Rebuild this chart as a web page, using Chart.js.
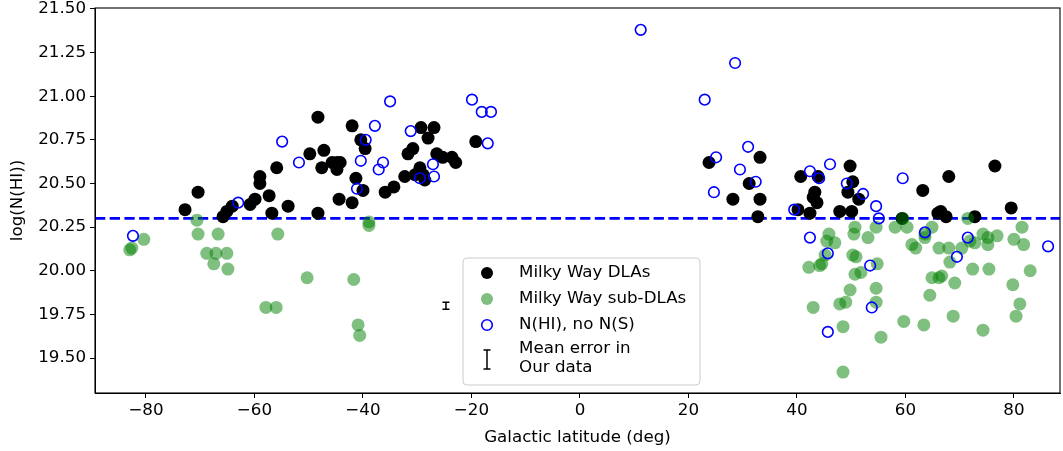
<!DOCTYPE html>
<html><head><meta charset="utf-8">
<script src="https://cdn.jsdelivr.net/npm/chart.js@4"></script>
<style>html,body{margin:0;padding:0;background:#fff}#wrap{width:1063px;height:451px}</style>
</head><body><div id="wrap"><canvas id="c" width="1063" height="451"></canvas></div>
<script>
// ---- data ----
const dlaLat = [-72.8,-70.4,-65.8,-65.1,-64.1,-60.8,-59.9,-59.0,-59.0,-57.3,-56.8,-55.9,-53.8,-49.8,-48.3,-48.3,-47.6,-47.2,-45.7,-44.8,-44.2,-44.8,-42.0,-40.4,-39.6,-41.3,-40.0,-44.4,-42.0,-35.9,-34.3,-32.3,-31.7,-30.8,-30.4,-29.5,-29.3,-28.9,-28.6,-28.0,-26.9,-26.4,-25.3,-23.6,-22.9,-19.2,
  23.8,33.2,31.2,28.2,33.2,32.8,40.7,43.9,43.3,43.0,43.7,40.2,42.4,49.8,50.3,49.4,51.4,47.9,50.1,63.2,68.0,76.5,66.5,67.5,66.0,72.8,79.5,59.4];
const dlaLogN = [20.35,20.45,20.31,20.34,20.37,20.38,20.41,20.50,20.54,20.43,20.33,20.59,20.37,20.67,20.88,20.33,20.59,20.69,20.62,20.62,20.62,20.58,20.83,20.75,20.70,20.53,20.46,20.41,20.39,20.45,20.48,20.54,20.67,20.70,20.55,20.59,20.82,20.55,20.52,20.76,20.82,20.67,20.65,20.65,20.62,20.74,
  20.62,20.65,20.50,20.41,20.41,20.31,20.54,20.54,20.45,20.42,20.39,20.35,20.33,20.60,20.51,20.45,20.41,20.34,20.34,20.46,20.54,20.60,20.34,20.31,20.33,20.31,20.36,20.30];
const subLat = [-83.0,-82.6,-80.4,-70.6,-70.4,-66.7,-68.8,-67.1,-65.1,-67.5,-64.9,-55.7,-50.3,-57.9,-56.0,-38.9,-38.9,-41.7,-40.9,-40.6,
  42.2,44.2,43.0,45.9,45.5,47.0,45.2,44.6,50.7,50.5,53.1,54.6,58.1,60.3,59.5,50.3,50.9,51.8,50.7,54.8,49.8,54.6,54.6,47.9,49.0,48.5,55.5,48.5,59.7,63.4,68.8,74.3,61.2,61.9,63.6,63.6,64.9,66.2,68.0,70.4,68.2,72.4,75.4,64.9,66.7,66.2,69.1,64.5,79.8,81.1,80.4,83.0,81.5,80.0,81.8,74.3,75.2,76.9,75.2,72.8,71.9,71.5];
const subLogN = [20.12,20.13,20.18,20.29,20.21,20.21,20.10,20.10,20.10,20.04,20.01,20.21,19.96,19.79,19.79,20.28,20.26,19.95,19.69,19.63,
  20.02,20.03,19.79,20.21,20.17,20.16,20.09,20.04,20.25,20.21,20.19,20.25,20.25,20.25,20.30,20.09,20.08,19.99,19.98,20.04,19.89,19.90,19.82,19.81,19.82,19.68,19.62,19.42,19.71,19.69,19.74,19.66,20.15,20.13,20.21,20.19,20.25,20.13,20.13,20.13,20.05,20.01,20.01,19.96,19.97,19.96,19.93,19.86,19.92,19.81,19.74,20.00,20.25,20.18,20.15,20.21,20.19,20.20,20.15,20.16,20.17,20.30];
const hiLat = [-82.4,-63.0,-54.9,-51.8,-35.0,-37.8,-39.5,-40.4,-36.3,-37.1,-41.1,-31.2,-27.1,-26.9,-29.5,-19.9,-18.1,-16.4,-17.0,
  11.2,23.0,28.6,25.1,31.0,29.5,32.4,24.7,42.4,44.1,46.1,49.2,52.2,54.6,55.1,39.5,42.4,59.5,45.7,63.6,71.5,86.3,69.5,53.5,53.8,45.7];
const hiLogN = [20.20,20.39,20.74,20.62,20.97,20.83,20.75,20.63,20.62,20.58,20.47,20.80,20.61,20.54,20.53,20.98,20.91,20.91,20.73,
  21.38,20.98,21.19,20.65,20.71,20.58,20.51,20.45,20.57,20.53,20.61,20.50,20.44,20.37,20.30,20.35,20.19,20.53,20.10,20.22,20.19,20.14,20.08,20.03,19.79,19.65];
const xTicks = [-80,-60,-40,-20,0,20,40,60,80];
const yTicks = [19.50,19.75,20.00,20.25,20.50,20.75,21.00,21.25,21.50];
const dlaThreshold = 20.3;
const meanErrLat = -24.7, meanErrLogN = 19.80, meanErr = 0.02;
const seriesNames = ['Milky Way DLAs','Milky Way sub-DLAs','N(HI), no N(S)'];
const errLegendLines = ['Mean error in','Our data'];

const pts = (xs, ys) => xs.map((x, i) => ({x: x, y: ys[i]}));
const FONT = 'DejaVu Sans';
const FS = 16.7;
Chart.defaults.color = '#000';
Chart.defaults.font.family = FONT;
Chart.defaults.font.size = FS;

const framePlugin = {
  id: 'frame',
  beforeDatasetsDraw(chart) {
    const {ctx, chartArea: a, scales} = chart;
    const y = scales.y.getPixelForValue(dlaThreshold);
    ctx.save();
    ctx.beginPath(); ctx.rect(a.left, a.top, a.right - a.left, a.bottom - a.top); ctx.clip();
    ctx.strokeStyle = '#0000ff'; ctx.lineWidth = 2.6; ctx.setLineDash([10.3, 4.4]);
    ctx.beginPath(); ctx.moveTo(a.left, y); ctx.lineTo(a.right, y); ctx.stroke();
    ctx.restore();
  },
  afterDraw(chart) {
    const {ctx, chartArea: a, scales} = chart;
    ctx.save();
    ctx.strokeStyle = '#000'; ctx.lineWidth = 1.1; ctx.setLineDash([]);
    ctx.strokeRect(a.left, a.top, a.right - a.left, a.bottom - a.top);
    const ex = scales.x.getPixelForValue(meanErrLat);
    const e1 = scales.y.getPixelForValue(meanErrLogN - meanErr);
    const e2 = scales.y.getPixelForValue(meanErrLogN + meanErr);
    ctx.lineWidth = 1.5;
    ctx.beginPath();
    ctx.moveTo(ex, e1); ctx.lineTo(ex, e2);
    ctx.moveTo(ex - 3.5, e1); ctx.lineTo(ex + 3.5, e1);
    ctx.moveTo(ex - 3.5, e2); ctx.lineTo(ex + 3.5, e2);
    ctx.stroke();
    const L = 463, T = 258, W = 237, H = 127, r = 4;
    ctx.beginPath();
    ctx.moveTo(L + r, T); ctx.lineTo(L + W - r, T); ctx.quadraticCurveTo(L + W, T, L + W, T + r);
    ctx.lineTo(L + W, T + H - r); ctx.quadraticCurveTo(L + W, T + H, L + W - r, T + H);
    ctx.lineTo(L + r, T + H); ctx.quadraticCurveTo(L, T + H, L, T + H - r);
    ctx.lineTo(L, T + r); ctx.quadraticCurveTo(L, T, L + r, T);
    ctx.closePath();
    ctx.fillStyle = 'rgba(255,255,255,0.8)'; ctx.fill();
    ctx.strokeStyle = '#cccccc'; ctx.lineWidth = 1; ctx.stroke();
    const mx = 487, tx = 519;
    const rows = [273, 299, 325];
    ctx.fillStyle = '#000';
    ctx.beginPath(); ctx.arc(mx, rows[0], 6, 0, Math.PI * 2); ctx.fill();
    ctx.fillStyle = 'rgba(0,128,0,0.5)';
    ctx.beginPath(); ctx.arc(mx, rows[1], 6, 0, Math.PI * 2); ctx.fill();
    ctx.strokeStyle = '#0000ff'; ctx.lineWidth = 1.6;
    ctx.beginPath(); ctx.arc(mx, rows[2], 5.3, 0, Math.PI * 2); ctx.stroke();
    ctx.strokeStyle = '#000'; ctx.lineWidth = 1.5;
    ctx.beginPath();
    ctx.moveTo(mx, 350); ctx.lineTo(mx, 369);
    ctx.moveTo(mx - 3.5, 350); ctx.lineTo(mx + 3.5, 350);
    ctx.moveTo(mx - 3.5, 369); ctx.lineTo(mx + 3.5, 369);
    ctx.stroke();
    ctx.fillStyle = '#000';
    ctx.font = FS + 'px "' + FONT + '"';
    ctx.textBaseline = 'middle'; ctx.textAlign = 'left';
    seriesNames.forEach((s, i) => ctx.fillText(s, tx, rows[i]));
    ctx.fillText(errLegendLines[0], tx, 349);
    ctx.fillText(errLegendLines[1], tx, 368);
    ctx.restore();
  }
};

new Chart(document.getElementById('c'), {
  type: 'scatter',
  data: {
    datasets: [
      {label: seriesNames[0], data: pts(dlaLat, dlaLogN), order: 3, backgroundColor: '#000', borderColor: '#000', borderWidth: 0, pointRadius: 6.5, pointHoverRadius: 6.5},
      {label: seriesNames[1], data: pts(subLat, subLogN), order: 2, backgroundColor: 'rgba(0,128,0,0.5)', borderColor: 'rgba(0,0,0,0)', borderWidth: 0, pointRadius: 6.5, pointHoverRadius: 6.5},
      {label: seriesNames[2], data: pts(hiLat, hiLogN), order: 1, backgroundColor: 'rgba(0,0,0,0)', borderColor: '#0000ff', borderWidth: 1.6, pointRadius: 5.3, pointHoverRadius: 5.3}
    ]
  },
  options: {
    responsive: false, animation: false, devicePixelRatio: 1,
    layout: {autoPadding: false, padding: {top: 8, right: 3, left: 0, bottom: 0}},
    plugins: {legend: {display: false}, tooltip: {enabled: false}},
    scales: {
      x: {
        type: 'linear', min: -89.4, max: 88.5,
        afterBuildTicks: s => { s.ticks = xTicks.map(v => ({value: v})); },
        afterFit: s => { s.height = 58; s.paddingLeft = 0; s.paddingRight = 0; },
        ticks: {color: '#000', padding: 3, maxRotation: 0, font: {size: FS, family: FONT},
          callback: v => (v < 0 ? '\u2212' + Math.abs(v) : String(v))},
        grid: {display: true, drawOnChartArea: false, drawTicks: true, tickLength: 5, color: '#000', lineWidth: 1},
        border: {display: true, color: '#000', width: 1},
        title: {display: true, text: 'Galactic latitude (deg)', color: '#000', font: {size: FS, family: FONT}, padding: {top: 0, bottom: 3}}
      },
      y: {
        type: 'linear', min: 19.30, max: 21.505,
        afterBuildTicks: s => { s.ticks = yTicks.map(v => ({value: v})); },
        afterFit: s => { s.width = 95; s.paddingTop = 0; s.paddingBottom = 0; },
        ticks: {color: '#000', padding: 4, font: {size: FS, family: FONT}, callback: v => Number(v).toFixed(2)},
        grid: {display: true, drawOnChartArea: false, drawTicks: true, tickLength: 5, color: '#000', lineWidth: 1},
        border: {display: true, color: '#000', width: 1},
        title: {display: true, text: 'log(N(HI))', color: '#000', font: {size: FS, family: FONT}, padding: {top: 8, bottom: 0}}
      }
    }
  },
  plugins: [framePlugin]
});
</script>
</body></html>
